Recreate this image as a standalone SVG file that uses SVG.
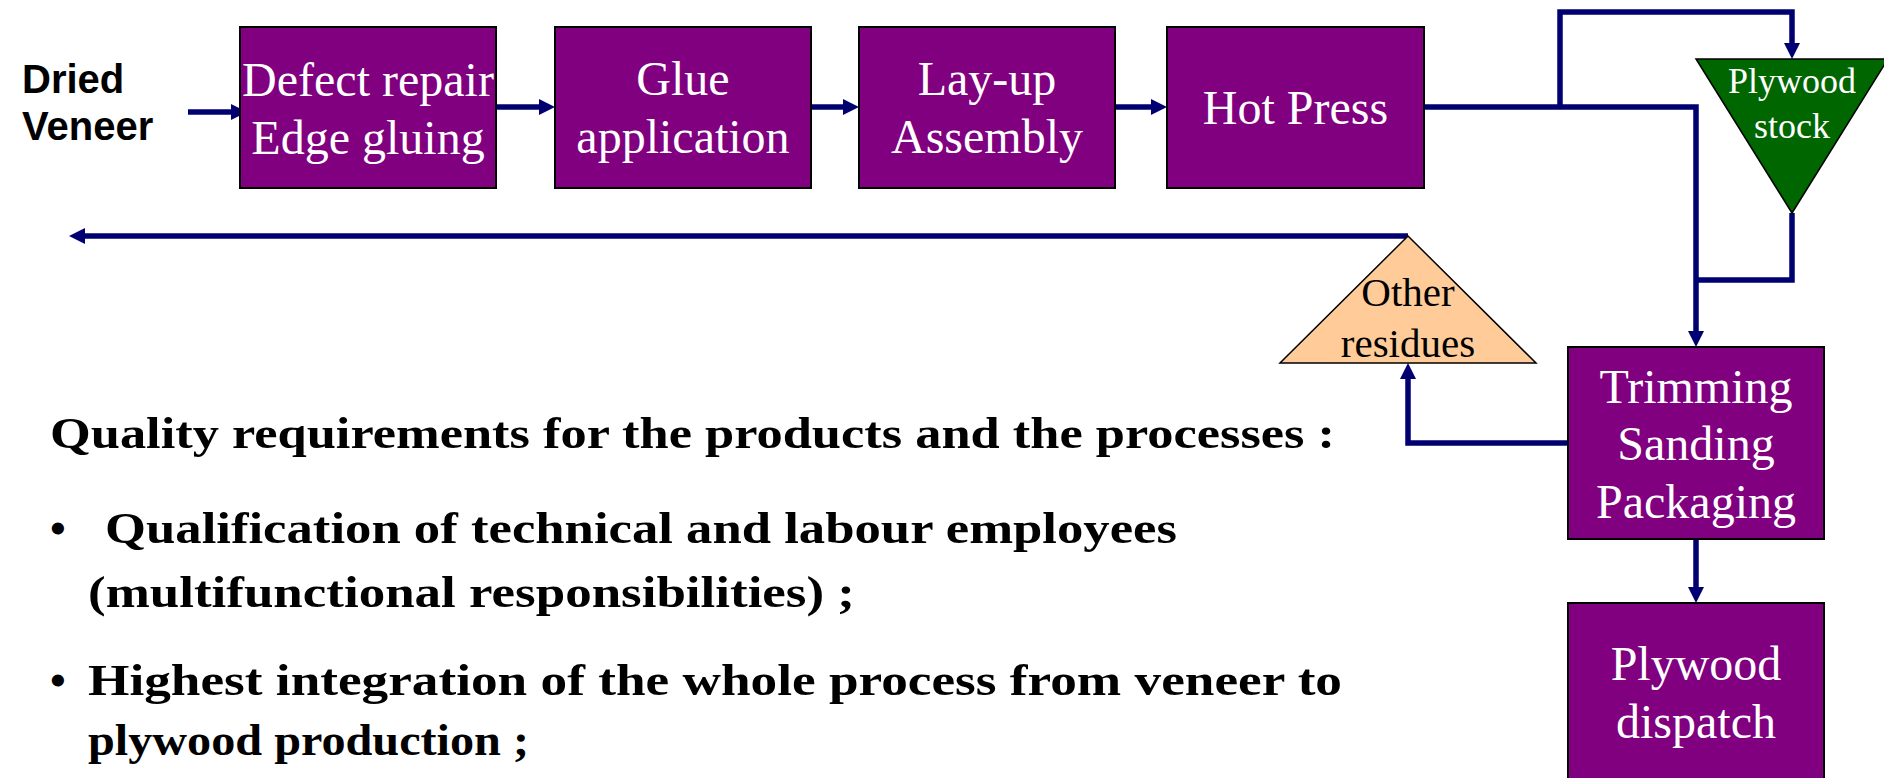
<svg xmlns="http://www.w3.org/2000/svg" width="1884" height="778" viewBox="0 0 1884 778">
  <style>
    .box { fill: #800080; stroke: #000; stroke-width: 2; }
    .btxt { font-family: "Liberation Serif", "Times New Roman", serif; font-size: 48px; fill: #fff; text-anchor: middle; }
    .stxt { font-family: "Liberation Serif", "Times New Roman", serif; font-size: 36px; fill: #fff; text-anchor: middle; }
    .rtxt { font-family: "Liberation Serif", "Times New Roman", serif; font-size: 41px; fill: #000; text-anchor: middle; }
    .conn { fill: none; stroke: #000070; stroke-width: 5.5; }
    .body { font-family: "Liberation Serif", "Times New Roman", serif; font-size: 45px; font-weight: bold; fill: #000; }
    .dv { font-family: "Comic Sans MS", "Liberation Sans", Arial, sans-serif; font-size: 40px; font-weight: bold; fill: #000; }
  </style>
  <defs>
    <marker id="ah" viewBox="0 0 16 16" refX="8" refY="8" markerWidth="16" markerHeight="16" markerUnits="userSpaceOnUse" orient="auto">
      <path d="M0,0 L16,8 L0,16 z" fill="#000070"/>
    </marker>
  </defs>
  <rect width="1884" height="778" fill="#fff"/>

  <g id="connectors">
    <path class="conn" d="M188,112 L239,112" marker-end="url(#ah)"/>
    <path class="conn" d="M496,107 L547,107" marker-end="url(#ah)"/>
    <path class="conn" d="M811,107 L851,107" marker-end="url(#ah)"/>
    <path class="conn" d="M1115,107 L1159,107" marker-end="url(#ah)"/>
    <path class="conn" d="M1424,107 L1696,107 L1696,339" marker-end="url(#ah)"/>
    <path class="conn" d="M1560,107 L1560,12 L1792,12 L1792,51" marker-end="url(#ah)"/>
    <path class="conn" d="M1792,213 L1792,280 L1696,280"/>
    <path class="conn" d="M1568,443 L1408,443 L1408,371" marker-end="url(#ah)"/>
    <path class="conn" d="M1408,236 L77,236" marker-end="url(#ah)"/>
    <path class="conn" d="M1696,539 L1696,595" marker-end="url(#ah)"/>
  </g>

  <g id="dried-veneer">
    <text class="dv" x="22" y="93">Dried</text>
    <text class="dv" x="22" y="140">Veneer</text>
  </g>

  <g id="defect-repair">
    <rect class="box" x="240" y="27" width="256" height="161"/>
    <text class="btxt" x="368" y="96">Defect repair</text>
    <text class="btxt" x="368" y="154">Edge gluing</text>
  </g>
  <g id="glue-application">
    <rect class="box" x="555" y="27" width="256" height="161"/>
    <text class="btxt" x="683" y="95">Glue</text>
    <text class="btxt" x="683" y="153">application</text>
  </g>
  <g id="lay-up">
    <rect class="box" x="859" y="27" width="256" height="161"/>
    <text class="btxt" x="987" y="95">Lay-up</text>
    <text class="btxt" x="987" y="153">Assembly</text>
  </g>
  <g id="hot-press">
    <rect class="box" x="1167" y="27" width="257" height="161"/>
    <text class="btxt" x="1295.5" y="124">Hot Press</text>
  </g>
  <g id="plywood-stock">
    <path d="M1696,59 L1888,59 L1792,213 z" fill="#006600" stroke="#000" stroke-width="1.5"/>
    <text class="stxt" x="1792" y="93">Plywood</text>
    <text class="stxt" x="1792" y="138">stock</text>
  </g>
  <g id="other-residues">
    <path d="M1408,236 L1536,363 L1280,363 z" fill="#FFCC99" stroke="#000" stroke-width="1.5"/>
    <text class="rtxt" x="1408" y="306">Other</text>
    <text class="rtxt" x="1408" y="357">residues</text>
  </g>
  <g id="trimming">
    <rect class="box" x="1568" y="347" width="256" height="192"/>
    <text class="btxt" x="1696" y="403">Trimming</text>
    <text class="btxt" x="1696" y="460">Sanding</text>
    <text class="btxt" x="1696" y="518">Packaging</text>
  </g>
  <g id="plywood-dispatch">
    <rect class="box" x="1568" y="603" width="256" height="200"/>
    <text class="btxt" x="1696" y="680">Plywood</text>
    <text class="btxt" x="1696" y="738">dispatch</text>
  </g>

  <g id="requirements">
    <text class="body" x="50" y="448" textLength="1285" lengthAdjust="spacingAndGlyphs">Quality requirements for the products and the processes :</text>
    <text class="body" x="50" y="543">•</text>
    <text class="body" x="105" y="543" textLength="1072" lengthAdjust="spacingAndGlyphs">Qualification of technical and labour employees</text>
    <text class="body" x="88" y="607" textLength="767" lengthAdjust="spacingAndGlyphs">(multifunctional responsibilities) ;</text>
    <text class="body" x="50" y="695">•</text>
    <text class="body" x="88" y="695" textLength="1254" lengthAdjust="spacingAndGlyphs">Highest integration of the whole process from veneer to</text>
    <text class="body" x="88" y="755" textLength="441" lengthAdjust="spacingAndGlyphs">plywood production ;</text>
  </g>
</svg>
